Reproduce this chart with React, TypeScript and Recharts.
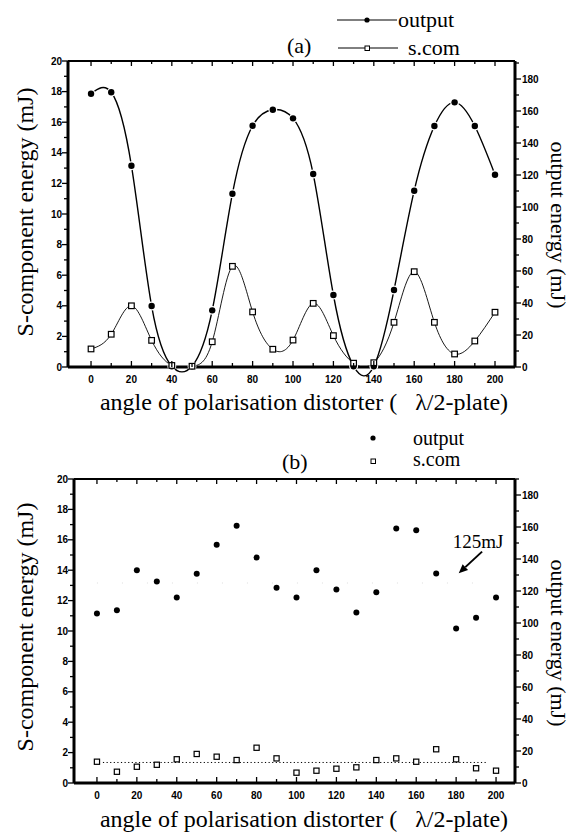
import React from "react";
import { ComposedChart, Line, Scatter, XAxis, YAxis, ReferenceLine, Legend } from "recharts";

// angle of the lambda/2 plate (deg)
const angles = [0, 10, 20, 30, 40, 50, 60, 70, 80, 90, 100, 110, 120, 130, 140, 150, 160, 170, 180, 190, 200];

// (a) output energy (mJ, right axis) and S-component energy (mJ, left axis)
const outputA = [170.8, 171.7, 125.8, 38.1, 0.5, 0.5, 35.4, 108.3, 150.8, 160.8, 155.4, 120.6, 45, 0.5, 0.5, 48.1, 110.2, 150.6, 165.4, 150.6, 120.2];
const scomA = [1.18, 2.14, 4.0, 1.74, 0.1, 0.05, 1.65, 6.58, 3.6, 1.16, 1.76, 4.16, 2.05, 0.25, 0.28, 2.92, 6.23, 2.92, 0.85, 1.7, 3.58];

// (b) same, with distorter
const outputB = [106, 108, 132.9, 126, 116, 130.8, 148.9, 160.8, 141, 122, 116, 132.9, 121, 106.5, 119.2, 159, 158, 131, 96.5, 103.3, 116];
const scomB = [1.4, 0.74, 1.07, 1.2, 1.56, 1.91, 1.73, 1.51, 2.32, 1.62, 0.68, 0.81, 0.94, 1.03, 1.51, 1.62, 1.4, 2.22, 1.56, 0.97, 0.81];
const scomMeanB = 1.35;
const outputMeanB = 125;

const xTicks = angles;
const leftTicks = [0, 1, 2, 3, 4, 5, 6, 7, 8, 9, 10, 11, 12, 13, 14, 15, 16, 17, 18, 19, 20];
const rightTicks = [0, 10, 20, 30, 40, 50, 60, 70, 80, 90, 100, 110, 120, 130, 140, 150, 160, 170, 180, 190];

const tableA = angles.map((a, i) => ({ angle: a, output: outputA[i], scom: scomA[i] }));
const tableB = angles.map((a, i) => ({ angle: a, output: outputB[i], scom: scomB[i] }));

const serif = "'Liberation Serif', 'DejaVu Serif', serif";
const sans = "'Liberation Sans', Arial, sans-serif";
const tickStyle = { fontFamily: sans, fontSize: 10, fontWeight: 700 } as const;
const serifStyle = (size: number) => ({ fontFamily: serif, fontSize: size, fontWeight: 400 });

function LeftTick(props: any) {
  const { x, y, payload } = props;
  const major = payload.value % 2 === 0;
  return (
    <g>
      <line x1={x - (major ? 6 : 4)} y1={y} x2={x} y2={y} stroke="#000" strokeWidth={1.3} />
      {major && (
        <text x={x - 6} y={y + 3.5} textAnchor="end" style={tickStyle} fill="#000">
          {payload.value}
        </text>
      )}
    </g>
  );
}

function RightTick(props: any) {
  const { x, y, payload } = props;
  const major = payload.value % 20 === 0;
  return (
    <g>
      <line x1={x} y1={y} x2={x + (major ? 6 : 4)} y2={y} stroke="#000" strokeWidth={1.3} />
      {major && (
        <text x={x + 7} y={y + 3.5} textAnchor="start" style={tickStyle} fill="#000">
          {payload.value}
        </text>
      )}
    </g>
  );
}

function BottomTick(props: any) {
  const { x, y, payload } = props;
  const major = payload.value % 20 === 0;
  return (
    <g>
      <line x1={x} y1={y - (major ? 6 : 4)} x2={x} y2={y} stroke="#000" strokeWidth={1.3} />
      {major && (
        <text x={x} y={y + 15.5} textAnchor="middle" style={tickStyle} fill="#000">
          {payload.value}
        </text>
      )}
    </g>
  );
}

function TopTick(props: any) {
  const { x, y, payload } = props;
  const major = payload.value % 20 === 0;
  return <line x1={x} y1={y} x2={x} y2={y + (major ? 5 : 3)} stroke="#000" strokeWidth={1.3} />;
}

const OutputDot = (props: any) => {
  const { cx, cy, index } = props;
  return <circle key={`o${index}`} cx={cx} cy={cy} r={3.2} fill="#000" stroke="#fff" strokeWidth={2.5} paintOrder="stroke" />;
};

const ScomSquare = (props: any) => {
  const { cx, cy, index } = props;
  return <rect key={`s${index}`} x={cx - 2.8} y={cy - 2.8} width={5.6} height={5.6} fill="#fff" stroke="#000" strokeWidth={1.2} />;
};

function xTitle(y: number) {
  return () => (
    <text x={304} y={y} textAnchor="middle" style={serifStyle(24)} fill="#000">
      {"angle of polarisation distorter (\u00a0\u00a0\u00a0\u03bb/2-plate)"}
    </text>
  );
}

function leftTitle(cy: number) {
  return () => (
    <text transform={`translate(33,${cy}) rotate(-90)`} textAnchor="middle" style={serifStyle(24)} fill="#000">
      S-component energy (mJ)
    </text>
  );
}

function rightTitle(cy: number) {
  return () => (
    <text transform={`translate(551,${cy}) rotate(90)`} textAnchor="middle" style={serifStyle(22)} fill="#000">
      output energy (mJ)
    </text>
  );
}

function LegendA() {
  return (
    <svg width={572} height={60} style={{ display: "block" }}>
      <line x1={337} y1={20} x2={397} y2={20} stroke="#000" strokeWidth={1.2} />
      <circle cx={367} cy={20} r={2.6} fill="#000" />
      <text x={398} y={27} style={serifStyle(22)} fill="#000">output</text>
      <line x1={338} y1={48} x2={398} y2={48} stroke="#000" strokeWidth={1} />
      <rect x={365} y={46} width={4.5} height={4.5} fill="#fff" stroke="#000" strokeWidth={1} />
      <text x={408} y={55} style={serifStyle(22)} fill="#000">s.com</text>
      <text x={287} y={53} style={serifStyle(22)} fill="#000">(a)</text>
    </svg>
  );
}

function LegendB() {
  return (
    <svg width={572} height={58} style={{ display: "block" }}>
      <circle cx={373} cy={18} r={2.6} fill="#000" />
      <text x={413} y={25} style={serifStyle(20)} fill="#000">output</text>
      <rect x={371} y={39} width={4.5} height={4.5} fill="#fff" stroke="#000" strokeWidth={1} />
      <text x={413} y={46} style={serifStyle(20)} fill="#000">s.com</text>
      <text x={282} y={49} style={serifStyle(22)} fill="#000">(b)</text>
    </svg>
  );
}

const ArrowShape = (props: any) => {
  const { x1, y1, x2, y2 } = props;
  const ang = Math.atan2(y2 - y1, x2 - x1);
  const len = 9;
  const w = 4;
  const bx = x2 - len * Math.cos(ang);
  const by = y2 - len * Math.sin(ang);
  const px = -Math.sin(ang) * w;
  const py = Math.cos(ang) * w;
  return (
    <g>
      <line x1={x1} y1={y1} x2={bx} y2={by} stroke="#000" strokeWidth={2} />
      <polygon points={`${x2},${y2} ${bx + px},${by + py} ${bx - px},${by - py}`} fill="#000" />
      <text x={x1 - 4} y={y1 - 4} textAnchor="middle" style={serifStyle(19)} fill="#000">125mJ</text>
    </g>
  );
};

const frame = { stroke: "#000", strokeWidth: 3 };

export default function App() {
  return (
    <div style={{ position: "absolute", left: 0, top: 0, width: 572, height: 833, background: "#fff", fontFamily: serif }}>
      <ComposedChart width={572} height={420} data={tableA} margin={{ top: 60, right: 0, bottom: 0, left: 0 }}>
        <XAxis xAxisId="t" orientation="top" type="number" dataKey="angle" domain={[-11.4, 209.9]} ticks={xTicks} interval={0}
          height={1} tickSize={0} tickMargin={0} tickLine={false} tick={<TopTick />} axisLine={{ stroke: "#000", strokeWidth: 2 }} />
        <XAxis xAxisId="b" orientation="bottom" type="number" dataKey="angle" domain={[-11.4, 209.9]} ticks={xTicks} interval={0}
          height={53} tickSize={0} tickMargin={0} tickLine={false} tick={<BottomTick />} axisLine={frame}
          label={{ content: xTitle(410) }} />
        <YAxis yAxisId="l" orientation="left" width={68} domain={[0, 20]} ticks={leftTicks} interval={0}
          tickSize={0} tickMargin={0} tickLine={false} tick={<LeftTick />} axisLine={frame} label={{ content: leftTitle(212) }} />
        <YAxis yAxisId="r" orientation="right" width={57} domain={[0, 191.25]} ticks={rightTicks} interval={0}
          tickSize={0} tickMargin={0} tickLine={false} tick={<RightTick />} axisLine={frame} label={{ content: rightTitle(225) }} />
        <Line xAxisId="b" yAxisId="r" dataKey="output" type="natural" stroke="#000" strokeWidth={1.4}
          dot={OutputDot} activeDot={false} isAnimationActive={false} />
        <Line xAxisId="b" yAxisId="l" dataKey="scom" type="natural" stroke="#000" strokeWidth={0.9}
          dot={ScomSquare} activeDot={false} isAnimationActive={false} />
        <Legend content={<LegendA />} layout="vertical" align="center" verticalAlign="middle"
          wrapperStyle={{ left: 0, top: 0, width: 572, height: 60 }} />
      </ComposedChart>
      <ComposedChart width={572} height={413} data={tableB} margin={{ top: 58, right: 0, bottom: 0, left: 0 }}>
        <XAxis xAxisId="t" orientation="top" type="number" dataKey="angle" domain={[-11.5, 209.5]} ticks={xTicks} interval={0}
          height={1} tickSize={0} tickMargin={0} tickLine={false} tick={<TopTick />} axisLine={{ stroke: "#000", strokeWidth: 2 }} />
        <XAxis xAxisId="b" orientation="bottom" type="number" dataKey="angle" domain={[-11.5, 209.5]} ticks={xTicks} interval={0}
          height={50} tickSize={0} tickMargin={0} tickLine={false} tick={<BottomTick />} axisLine={frame}
          label={{ content: xTitle(407) }} />
        <YAxis yAxisId="l" orientation="left" width={74} domain={[0, 20]} ticks={leftTicks} interval={0}
          tickSize={0} tickMargin={0} tickLine={false} tick={<LeftTick />} axisLine={frame} label={{ content: leftTitle(207) }} />
        <YAxis yAxisId="r" orientation="right" width={57} domain={[0, 190]} ticks={rightTicks} interval={0}
          tickSize={0} tickMargin={0} tickLine={false} tick={<RightTick />} axisLine={frame} label={{ content: rightTitle(223) }} />
        <ReferenceLine xAxisId="b" yAxisId="r" segment={[{ x: 0, y: outputMeanB }, { x: 200, y: outputMeanB }]}
          stroke="#ddd" strokeDasharray="1 24" strokeWidth={1} />
        <ReferenceLine xAxisId="b" yAxisId="l" segment={[{ x: 3, y: scomMeanB }, { x: 195, y: scomMeanB }]}
          stroke="#000" strokeDasharray="1.2 2.4" strokeWidth={1} />
        <Scatter xAxisId="b" yAxisId="r" dataKey="output" shape={(p: any) => <circle cx={p.cx} cy={p.cy} r={3} fill="#000" />}
          isAnimationActive={false} />
        <Scatter xAxisId="b" yAxisId="l" dataKey="scom"
          shape={(p: any) => <rect x={p.cx - 2.6} y={p.cy - 2.6} width={5.2} height={5.2} fill="#fff" stroke="#000" strokeWidth={1.2} />}
          isAnimationActive={false} />
        <ReferenceLine xAxisId="b" yAxisId="r" segment={[{ x: 193, y: 144.6 }, { x: 181.3, y: 131.1 }]} shape={ArrowShape} />
        <Legend content={<LegendB />} layout="vertical" align="center" verticalAlign="middle"
          wrapperStyle={{ left: 0, top: 0, width: 572, height: 58 }} />
      </ComposedChart>
    </div>
  );
}
